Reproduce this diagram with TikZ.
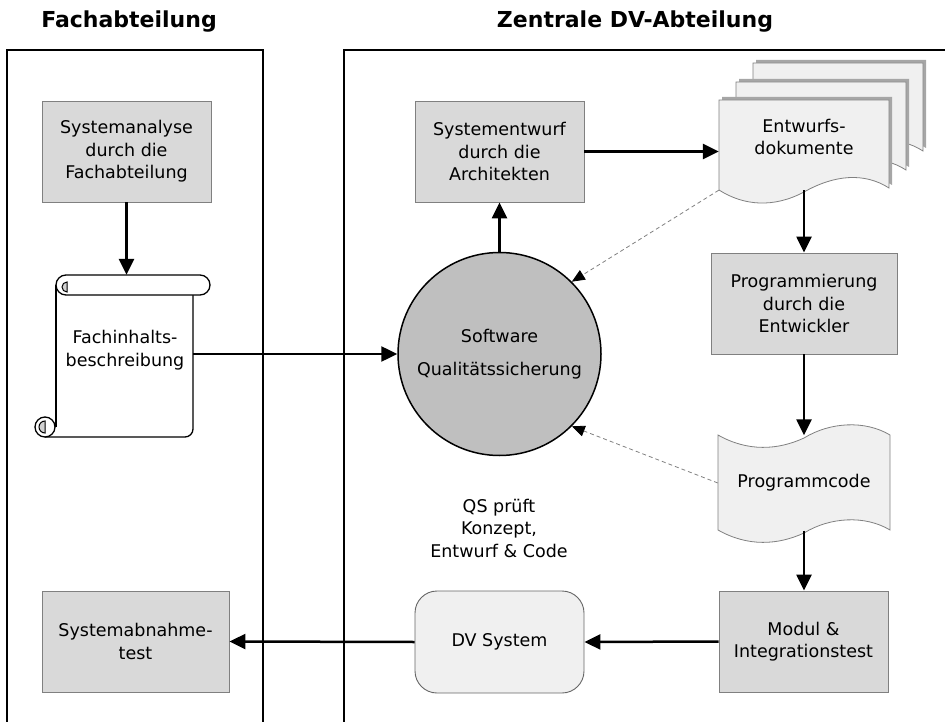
\documentclass[tikz,border=0pt]{standalone}
\usepackage{fontspec}
\setmainfont{DejaVu Sans}
\usetikzlibrary{arrows.meta}
\definecolor{boxfill}{HTML}{D9D9D9}
\definecolor{boxline}{HTML}{808080}
\definecolor{docfill}{HTML}{F0F0F0}
\definecolor{qsfill}{HTML}{BFBFBF}
\definecolor{sheetshadow}{HTML}{A6A6A6}
\def\sheetpath{(0,0) -- (170,0) -- (170,88) .. controls (145,72) and (115,75) .. (85,92) .. controls (55,108) and (25,106) .. (0,90) -- cycle}
\begin{document}
\begin{tikzpicture}[x=1pt,y=-1pt,
  txt/.style={font=\fontsize{17.5}{22.5}\selectfont, align=center, inner sep=0pt},
  procbox/.style={txt, draw=boxline, fill=boxfill, line width=0.9pt, minimum width=169pt, minimum height=101pt},
  flow/.style={line width=2.5pt, -{Triangle[length=16pt,width=15pt]}},
  check/.style={draw=gray, line width=0.8pt, dash pattern=on 4pt off 3pt, -{Triangle[length=13pt,width=11pt,black]}},
  panel/.style={line width=1.6pt},
  title/.style={font=\bfseries\fontsize{22}{26}\selectfont, inner sep=0pt},
  scrollline/.style={line width=1.3pt},
  docsheet/.pic={
    \fill[sheetshadow, shift={(3,-3)}] \sheetpath;
    \filldraw[fill=docfill, draw=boxline, line width=0.8pt] \sheetpath;
  }
]
\useasboundingbox (0,0) rectangle (945,722);

% panels
\draw[panel] (7,722) -- (7,50) -- (263,50) -- (263,722);
\draw[panel] (344,722) -- (344,50) -- (945,50);
\node[title] (t1) at (129,22) {Fachabteilung};
\node[title] (t2) at (635,22) {Zentrale DV-Abteilung};

% process boxes
\node[procbox] (sa) at (126.5,151.5) {Systemanalyse\\durch die\\Fachabteilung};
\node[procbox, minimum width=187pt] (sat) at (135.5,641.5) {Systemabnahme-\\test};
\node[procbox] (se) at (499.5,151.5) {Systementwurf\\durch die\\Architekten};
\node[procbox, minimum width=186pt] (prog) at (804,303.5) {Programmierung\\durch die\\Entwickler};
\node[procbox] (modul) at (803.5,641.5) {Modul \&\\Integrationstest};
\node[txt, draw=boxline!80!black, fill=docfill, rounded corners=22pt, line width=0.9pt, minimum width=169pt, minimum height=102pt] (dv) at (499.5,642) {DV System};
\node[txt, circle, draw=black, line width=1.5pt, fill=qsfill, minimum size=203pt] (qs) at (499.5,354) {Software\\[11pt]Qualitätssicherung};
\node[txt] (qstext) at (499,528) {QS prüft\\Konzept,\\Entwurf \& Code};

% scroll
\fill[white] (56,285) rectangle (193,437);
\draw[scrollline] (56,285) -- (56,427);
\draw[scrollline] (193,295) -- (193,429) arc[start angle=0, end angle=90, radius=8] -- (45,437);
\draw[scrollline, fill=white] (45,427) circle (10);
\filldraw[fill=gray!35, line width=1pt] (45,421) arc[start angle=270, end angle=90, radius=6] -- cycle;
\filldraw[fill=white, scrollline] (66,275) -- (200,275) arc[start angle=270, end angle=450, radius=10] -- (66,295) arc[start angle=90, end angle=270, radius=10] -- cycle;
\filldraw[fill=gray!35, line width=1pt] (67,282) arc[start angle=270, end angle=90, radius=5] -- cycle;
\node[minimum width=137pt, minimum height=158pt, inner sep=0pt] (scrollbody) at (124.5,354) {};
\node[txt] (scrolltext) at (125,350) {Fachinhalts-\\beschreibung};

% document stack
\pic at (753,63) {docsheet};
\pic at (736,82) {docsheet};
\pic at (719,100) {docsheet};
\node[minimum width=170pt, minimum height=90pt, inner sep=0pt] (docs) at (804,145) {};
\node[txt] (doctext) at (804,137) {Entwurfs-\\dokumente};

% program code (tape)
\filldraw[fill=docfill, draw=boxline, line width=0.8pt] (718,435) .. controls (748,452) and (778,450) .. (804,438) .. controls (830,422) and (865,420) .. (890,435) -- (890,530) .. controls (865,515) and (830,517) .. (804,533) .. controls (778,545) and (748,547) .. (718,530) -- cycle;
\node[txt, minimum width=172pt, minimum height=95pt] (code) at (804,483) {Programmcode};

% connectors
\draw[flow] (sa.south) -- (sa.south |- scrollbody.north);
\draw[flow] (scrollbody.east) -- (qs.west);
\draw[flow] (qs.north) -- (se.south);
\draw[flow] (se.east) -- (se.east -| docs.west);
\draw[flow] (docs.south) -- (prog.north);
\draw[flow] (prog.south) -- (code.north);
\draw[flow] (code.south) -- (code.south |- modul.north);
\draw[flow] (modul.west) -- (dv.east);
\draw[flow] (dv.west) -- (sat.east);
\draw[check] (docs.south west) -- (qs.45);
\draw[check] (code.west) -- (qs.-45);
\end{tikzpicture}
\end{document}
